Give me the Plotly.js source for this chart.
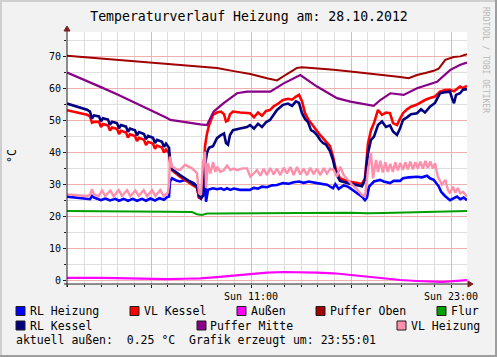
<!DOCTYPE html>
<html><head><meta charset="utf-8">
<script src="https://cdn.plot.ly/plotly-3.0.1.min.js"></script>
<style>html,body{margin:0;padding:0;background:#f2f2f2;}#chart{width:497px;height:357px;}</style>
</head><body><div id="chart"></div>
<script>
// ---- data: [hours since start of window, °C] ----
const rlHeizung = [[0,26.3],[0.6,26.0],[1.2,25.6],[1.38,25.5],[1.5,26.5],[1.62,26.0],[2.04,25.2],[2.3,25.7],[2.58,25.1],[2.9,25.6],[3.12,25.0],[3.4,25.6],[3.66,25.0],[3.95,25.6],[4.2,25.0],[4.5,25.6],[4.74,25.0],[5.0,25.7],[5.28,25.1],[5.55,25.8],[5.82,25.3],[6.0,26.1],[6.12,26.3],[6.18,31.0],[6.3,32.0],[6.6,31.2],[6.78,31.0],[7.1,31.5],[7.38,31.0],[7.6,30.5],[7.8,29.4],[7.92,26.0],[8.04,25.8],[8.16,26.5],[8.28,31.5],[8.34,24.7],[8.46,28.4],[8.76,28.9],[9.0,28.6],[9.24,28.9],[9.42,28.4],[9.6,28.9],[9.8,28.4],[10.0,28.8],[10.38,28.4],[10.8,28.4],[10.98,28.4],[11.2,29.0],[11.46,28.8],[11.7,29.4],[12.0,29.2],[12.3,29.8],[12.6,29.9],[12.96,30.5],[13.3,30.3],[13.6,30.8],[13.92,31.0],[14.2,30.6],[14.5,31.0],[15.0,30.5],[15.3,30.2],[15.6,30.0],[15.96,28.9],[16.1,30.2],[16.3,28.7],[16.6,29.8],[16.86,29.4],[17.1,28.5],[17.34,27.8],[17.7,26.3],[17.88,25.2],[18.0,26.0],[18.12,29.4],[18.3,30.5],[18.42,31.0],[18.78,31.5],[19.0,31.0],[19.38,30.5],[19.6,31.2],[19.98,31.2],[20.16,32.0],[20.5,32.3],[21.0,32.5],[21.3,32.3],[21.6,32.8],[21.78,32.0],[22.0,31.5],[22.08,31.0],[22.3,29.5],[22.45,27.8],[22.68,26.5],[22.98,25.2],[23.2,25.8],[23.4,26.3],[23.6,25.5],[23.8,26.0],[24.0,25.2]];

const vlKessel = [[0,53.2],[0.6,52.6],[1.2,51.8],[1.38,51.3],[1.5,49.3],[1.62,49.6],[1.92,49.6],[2.04,48.0],[2.16,48.9],[2.46,48.5],[2.58,46.9],[2.7,47.8],[3.0,47.4],[3.12,45.8],[3.24,46.8],[3.54,46.3],[3.66,44.7],[3.78,45.7],[4.08,45.2],[4.2,43.6],[4.32,44.6],[4.62,44.0],[4.74,42.4],[4.86,43.4],[5.16,42.8],[5.28,41.2],[5.4,42.2],[5.7,41.6],[5.82,40.0],[5.94,41.0],[6.12,39.8],[6.18,37.0],[6.3,34.5],[6.78,32.5],[7.38,30.5],[7.8,29.0],[7.92,26.0],[8.04,25.6],[8.16,30.0],[8.28,42.0],[8.4,46.0],[8.52,48.5],[8.76,51.8],[9.0,52.5],[9.24,52.8],[9.42,52.0],[9.54,49.7],[9.66,50.0],[9.78,52.0],[9.96,52.8],[10.38,52.5],[10.8,52.3],[10.98,52.3],[11.22,51.0],[11.46,52.5],[11.7,51.5],[11.94,53.0],[12.18,53.3],[12.42,54.5],[12.6,55.0],[12.96,56.4],[13.26,56.8],[13.5,56.5],[13.74,57.5],[13.92,58.0],[14.1,56.0],[14.28,52.3],[14.46,50.5],[14.64,49.2],[14.82,48.0],[15.0,46.6],[15.18,45.5],[15.36,44.5],[15.54,43.4],[15.78,42.0],[15.96,38.8],[16.14,34.6],[16.38,32.0],[16.86,31.0],[17.34,30.6],[17.7,30.2],[17.88,32.1],[18.06,42.9],[18.24,47.0],[18.42,49.2],[18.66,53.3],[18.9,51.8],[19.14,52.5],[19.38,52.3],[19.56,49.2],[19.8,48.6],[19.98,50.5],[20.16,52.3],[20.4,53.5],[20.64,54.3],[21.0,55.0],[21.24,55.8],[21.48,56.4],[21.78,57.0],[22.08,57.5],[22.38,59.0],[22.68,59.5],[22.98,59.6],[23.22,59.1],[23.58,60.6],[23.76,60.2],[24.0,60.8]];

const aussen = [[0,1.0],[1,1.1],[2,1.0],[3,0.9],[4,0.8],[5,0.6],[6,0.6],[7,0.7],[8,0.8],[9,1.2],[10,1.7],[11,2.2],[12,2.6],[13,2.8],[14,2.8],[15,2.6],[16,2.4],[17,1.9],[18,1.3],[19,0.7],[20,0.3],[21,0.0],[22,-0.2],[22.5,-0.3],[23,-0.1],[23.5,0.1],[24,0.25]];

const pufferOben = [[0,70.2],[1,69.8],[2,69.4],[3,69.0],[4,68.5],[5,68.1],[6,67.7],[7,67.2],[8,66.9],[9,66.4],[10,65.4],[11,64.5],[12,63.2],[12.6,62.5],[13.2,64.5],[13.8,66.4],[14.1,66.6],[15,66.3],[16,65.8],[17,65.3],[18,64.8],[19,64.2],[20,63.6],[20.5,63.2],[21,64.2],[21.5,64.8],[22,65.5],[22.3,66.2],[22.7,68.9],[23.2,69.8],[23.6,70.0],[24,70.7]];

const flur = [[0,21.8],[3,21.8],[6,21.6],[7.5,21.5],[7.8,20.8],[8.1,20.6],[8.4,21.0],[9,21.0],[11,21.0],[14,21.2],[17,21.3],[18,21.1],[19,21.2],[21,21.4],[22.5,21.6],[24,21.8]];

const rlKessel = [[0,55.3],[0.6,54.4],[1.2,53.4],[1.38,52.8],[1.5,50.6],[1.62,51.6],[1.92,51.3],[2.04,49.8],[2.16,50.7],[2.46,50.3],[2.58,48.7],[2.7,49.6],[3.0,49.2],[3.12,47.6],[3.24,48.6],[3.54,48.1],[3.66,46.5],[3.78,47.5],[4.08,47.0],[4.2,45.4],[4.32,46.4],[4.62,45.8],[4.74,44.2],[4.86,45.2],[5.16,44.6],[5.28,43.0],[5.4,44.0],[5.7,43.4],[5.82,41.8],[5.94,42.8],[6.12,41.5],[6.18,38.0],[6.3,34.8],[6.78,33.0],[7.38,31.0],[7.8,29.5],[7.92,26.5],[8.04,25.8],[8.16,27.0],[8.28,36.0],[8.4,40.0],[8.52,41.5],[8.76,42.0],[9.0,44.5],[9.24,45.5],[9.42,46.0],[9.54,43.0],[9.66,42.5],[9.78,45.5],[9.96,47.0],[10.38,47.5],[10.8,48.0],[10.98,48.6],[11.22,47.5],[11.46,49.0],[11.7,48.0],[11.94,49.5],[12.18,50.2],[12.42,52.0],[12.6,53.3],[12.96,54.9],[13.26,55.3],[13.5,54.6],[13.74,56.0],[13.92,55.5],[14.1,52.3],[14.28,50.5],[14.46,49.5],[14.64,47.0],[14.82,46.5],[15.0,45.5],[15.18,44.0],[15.36,43.0],[15.54,42.5],[15.78,40.5],[15.96,37.7],[16.14,33.5],[16.38,31.2],[16.86,30.5],[17.34,30.0],[17.7,29.5],[17.88,31.5],[18.06,39.8],[18.24,44.0],[18.42,45.0],[18.66,48.6],[18.9,49.7],[19.14,48.0],[19.38,48.5],[19.56,46.6],[19.8,45.5],[19.98,47.5],[20.16,50.2],[20.4,51.0],[20.64,52.0],[21.0,52.3],[21.24,53.5],[21.48,52.5],[21.78,54.3],[22.08,55.5],[22.38,58.5],[22.68,58.8],[22.98,59.0],[23.1,57.0],[23.22,55.4],[23.34,58.0],[23.58,58.5],[23.76,59.6],[24.0,59.8]];

const pufferMitte = [[0,65.0],[1.08,62.7],[2,60.5],[3,58.2],[4,55.8],[5,53.4],[6,50.8],[6.2,50.2],[7,49.5],[8,48.8],[8.4,48.6],[8.8,52.8],[9.4,55.4],[10.2,58.5],[10.8,59.0],[12.2,59.0],[13.0,61.6],[14.0,64.2],[15.0,60.6],[16.2,57.0],[17.0,55.9],[18.0,54.9],[18.4,54.6],[18.8,56.4],[19.4,58.5],[20.2,58.0],[21.0,60.1],[22.2,62.1],[23.0,65.8],[23.6,67.4],[24.0,68.1]];

const vlHeizung = [[0,27.0],[0.6,26.8],[1.2,26.5],[1.38,26.8],[1.5,28.6],[1.62,27.0],[1.9,26.4],[2.1,28.2],[2.3,26.5],[2.6,28.2],[2.8,26.4],[3.1,28.3],[3.3,26.5],[3.6,28.3],[3.8,26.4],[4.1,28.2],[4.3,26.5],[4.6,28.3],[4.8,26.4],[5.1,28.3],[5.3,26.5],[5.6,28.3],[5.8,26.5],[6.05,27.5],[6.12,30.0],[6.18,38.8],[6.3,35.6],[6.6,34.8],[6.78,34.6],[7.08,36.2],[7.3,35.5],[7.5,35.1],[7.8,33.6],[7.92,27.4],[8.04,26.8],[8.16,36.7],[8.28,40.3],[8.34,29.0],[8.46,36.7],[8.6,33.5],[8.76,37.0],[8.9,34.0],[9.0,35.6],[9.2,34.0],[9.42,34.6],[9.6,36.0],[9.8,34.6],[10.0,35.0],[10.2,34.5],[10.5,35.1],[10.8,35.1],[11.0,32.5],[11.2,33.5],[11.4,34.6],[11.6,32.8],[11.8,35.0],[12.0,33.0],[12.2,35.2],[12.4,33.2],[12.6,35.0],[12.8,33.0],[13.0,35.3],[13.2,33.5],[13.4,35.5],[13.6,33.0],[13.8,35.5],[14.0,33.2],[14.2,35.0],[14.4,33.0],[14.6,35.3],[14.8,33.3],[15.0,35.0],[15.2,33.0],[15.4,35.2],[15.6,33.5],[15.8,35.0],[16.0,34.6],[16.2,32.5],[16.4,35.6],[16.6,33.0],[16.86,31.5],[17.1,30.0],[17.34,28.9],[17.7,26.8],[17.88,26.3],[18.06,34.6],[18.24,39.8],[18.36,32.0],[18.54,37.7],[18.66,34.0],[18.8,37.5],[18.95,33.8],[19.1,37.0],[19.25,34.0],[19.4,36.5],[19.55,34.0],[19.7,37.0],[19.85,34.5],[20.0,36.8],[20.15,34.6],[20.3,37.0],[20.45,34.8],[20.6,37.2],[20.75,34.8],[20.9,37.0],[21.05,35.0],[21.2,37.2],[21.35,35.0],[21.5,37.4],[21.65,35.2],[21.8,37.3],[21.95,35.0],[22.08,36.7],[22.25,32.5],[22.5,30.0],[22.7,31.5],[22.85,28.5],[22.98,27.3],[23.15,29.4],[23.3,27.5],[23.45,29.0],[23.6,27.3],[23.76,27.8],[24.0,26.3]];

const seriesNames  = ['RL Heizung','VL Kessel','Außen','Puffer Oben','Flur','RL Kessel','Puffer Mitte','VL Heizung'];
const seriesColors = ['#0000ff','#ff0000','#ff00ff','#a00000','#00a000','#000080','#880088','#ff8fab'];
const seriesWidths = [2.6, 2.6, 2.2, 2, 2, 2.6, 2.2, 2.4];
const seriesData   = [rlHeizung, vlKessel, aussen, pufferOben, flur, rlKessel, pufferMitte, vlHeizung];

const yTickVals = [0,10,20,30,40,50,60,70];
const xTickVals = ['2012-10-28 05:00','2012-10-28 11:00','2012-10-28 17:00','2012-10-28 23:00'];
const xTickText = ['','Sun 11:00','','Sun 23:00'];
const titleText = 'Temperaturverlauf Heizung am: 28.10.2012';
const footerText = 'aktuell außen:  0.25 °C  Grafik erzeugt um: 23:55:01';
const creditText = 'RRDTOOL / TOBI OETIKER';

// ---- layout helpers ----
const T0 = Date.UTC(2012, 9, 27, 23, 57, 36);
const HOUR = 3600000;
const L = 67, T = 32, PW = 400, PH = 252;
const px = x => (x - L) / PW;
const py = y => (T + PH - y) / PH;
const FONT = 'DejaVu Sans Mono, monospace';

const traces = seriesData.map((d, i) => ({
  type: 'scatter', mode: 'lines',
  x: d.map(p => T0 + p[0] * HOUR), y: d.map(p => p[1]),
  line: {color: seriesColors[i], width: seriesWidths[i]},
  hoverinfo: 'skip', showlegend: false, name: seriesNames[i]
}));

// legend placement (pixel positions of box / text)
const legendPos = [
  {box:16, text:30, y:311}, {box:130, text:144, y:311}, {box:237, text:251, y:311},
  {box:316, text:330, y:311}, {box:437, text:451, y:311},
  {box:16, text:30, y:325.5}, {box:197, text:210, y:325.5}, {box:397, text:411, y:325.5}
];

const shapes = [];
const annotations = [];
// frame
shapes.push({type:'rect', xref:'paper', yref:'paper', x0:px(0), x1:px(497), y0:py(0), y1:py(2), fillcolor:'#cfcfcf', line:{width:0}, layer:'below'});
shapes.push({type:'rect', xref:'paper', yref:'paper', x0:px(0), x1:px(2), y0:py(0), y1:py(357), fillcolor:'#cfcfcf', line:{width:0}, layer:'below'});
shapes.push({type:'rect', xref:'paper', yref:'paper', x0:px(495), x1:px(497), y0:py(0), y1:py(357), fillcolor:'#9e9e9e', line:{width:0}, layer:'below'});
shapes.push({type:'rect', xref:'paper', yref:'paper', x0:px(0), x1:px(497), y0:py(355), y1:py(357), fillcolor:'#9e9e9e', line:{width:0}, layer:'below'});
// axes
shapes.push({type:'line', xref:'paper', yref:'paper', x0:px(67), x1:px(67), y0:py(287), y1:py(30), line:{color:'#1f1f1f', width:1}});
shapes.push({type:'line', xref:'paper', yref:'paper', x0:px(64), x1:px(469), y0:py(284), y1:py(284), line:{color:'#1f1f1f', width:1}});
shapes.push({type:'path', xref:'paper', yref:'paper',
  path:`M ${px(67)} ${py(26)} L ${px(64)} ${py(31)} L ${px(70)} ${py(31)} Z`, fillcolor:'#801f1f', line:{color:'#801f1f', width:1}});
shapes.push({type:'path', xref:'paper', yref:'paper',
  path:`M ${px(473)} ${py(284)} L ${px(468)} ${py(281)} L ${px(468)} ${py(287)} Z`, fillcolor:'#801f1f', line:{color:'#801f1f', width:1}});

seriesNames.forEach((n, i) => {
  const p = legendPos[i];
  shapes.push({type:'rect', xref:'paper', yref:'paper', x0:px(p.box), x1:px(p.box+9), y0:py(p.y-4.5), y1:py(p.y+4.5),
    fillcolor: seriesColors[i], line:{color:'#1f1f1f', width:1}});
  annotations.push({xref:'paper', yref:'paper', x:px(p.text), y:py(p.y), xanchor:'left', yanchor:'middle',
    text:n, showarrow:false, borderpad:0, borderwidth:0, font:{family:FONT, size:11.5, color:'#000'}});
});
annotations.push({xref:'paper', yref:'paper', x:px(16), y:py(339.5), xanchor:'left', yanchor:'middle',
  text:footerText.replace(/ /g,'&nbsp;'), showarrow:false, borderpad:0, borderwidth:0, font:{family:FONT, size:11.5, color:'#000'}});
annotations.push({xref:'paper', yref:'paper', x:px(12), y:py(156), xanchor:'center', yanchor:'middle',
  text:'°C', textangle:-90, showarrow:false, font:{family:FONT, size:11.5, color:'#000'}});
annotations.push({xref:'paper', yref:'paper', x:px(486), y:py(60), xanchor:'center', yanchor:'middle',
  text:creditText, textangle:90, showarrow:false, font:{family:FONT, size:8, color:'#b8b8b8'}});

const layout = {
  width: 497, height: 357,
  margin: {l:67, r:30, t:32, b:73, pad:0},
  paper_bgcolor:'#f2f2f2', plot_bgcolor:'#ffffff',
  title: {text:titleText, font:{family:FONT, size:13.2, color:'#000'}, xref:'container', yref:'container',
          x:0.501, y:(357-16)/357, xanchor:'center', yanchor:'middle'},
  xaxis: {type:'date', range:[T0, T0 + 24*HOUR], tickmode:'array', tickvals:xTickVals, ticktext:xTickText,
    showgrid:true, gridcolor:'#efb0b0', gridwidth:1, zeroline:false, showline:false,
    ticks:'outside', ticklen:3, tickcolor:'#1f1f1f', tickfont:{family:FONT, size:10, color:'#000'},
    minor:{tickmode:'linear', tick0:'2012-10-28 00:00', dtick:HOUR, showgrid:true, gridcolor:'#dedede', ticks:'outside', ticklen:2, tickcolor:'#1f1f1f'},
    fixedrange:true},
  yaxis: {range:[-0.94, 77.6], tickmode:'array', tickvals:yTickVals, ticktext:yTickVals.map(String),
    showgrid:true, gridcolor:'#efb0b0', gridwidth:1, zeroline:false, showline:false,
    ticks:'outside', ticklen:3, tickcolor:'#1f1f1f', tickfont:{family:FONT, size:10, color:'#000'},
    minor:{tickmode:'linear', tick0:0, dtick:5, showgrid:true, gridcolor:'#dedede', ticks:'outside', ticklen:2, tickcolor:'#1f1f1f'},
    fixedrange:true},
  shapes, annotations, showlegend:false
};
Plotly.newPlot('chart', traces, layout, {staticPlot:true, displayModeBar:false});
</script></body></html>
